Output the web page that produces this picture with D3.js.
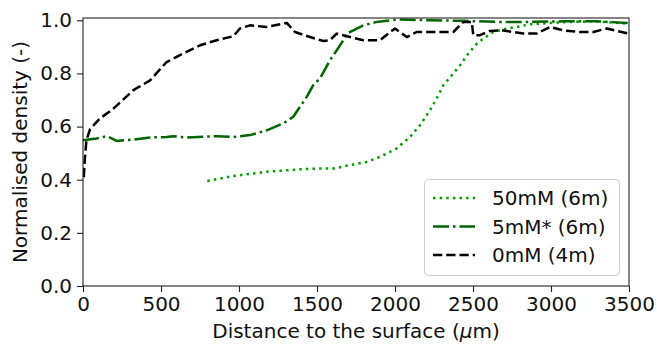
<!DOCTYPE html>
<html>
<head>
<meta charset="utf-8">
<script src="https://cdn.jsdelivr.net/npm/d3@7/dist/d3.min.js"></script>
<style>
  html, body { margin: 0; padding: 0; background: #fff; }
  svg { display: block; font-family: "DejaVu Sans", sans-serif; }
</style>
</head>
<body>
<svg id="chart" width="657" height="344"></svg>
<script>
// ---- data ----
const xTicks = [0, 500, 1000, 1500, 2000, 2500, 3000, 3500];
const yTicks = [0.0, 0.2, 0.4, 0.6, 0.8, 1.0];

const seriesNames = ["50mM (6m)", "5mM* (6m)", "0mM (4m)"];

const x50 = [797, 963, 1178, 1391, 1498, 1605, 1712, 1819, 1904, 2011, 2096, 2160, 2225, 2267, 2310, 2364, 2417, 2470, 2524, 2566, 2630, 2716, 2780, 2865, 3079, 3293, 3496];
const y50 = [0.395, 0.414, 0.430, 0.439, 0.442, 0.442, 0.455, 0.467, 0.486, 0.518, 0.561, 0.605, 0.662, 0.706, 0.756, 0.793, 0.831, 0.875, 0.912, 0.931, 0.956, 0.969, 0.975, 0.985, 0.993, 0.996, 0.987];

const x5 = [0, 88, 152, 216, 323, 430, 536, 579, 665, 857, 963, 1071, 1178, 1284, 1348, 1391, 1434, 1476, 1519, 1583, 1626, 1669, 1690, 1733, 1797, 1883, 2011, 2225, 2438, 2652, 2865, 3079, 3293, 3496];
const y5 = [0.549, 0.555, 0.564, 0.546, 0.551, 0.559, 0.561, 0.564, 0.559, 0.564, 0.561, 0.568, 0.586, 0.612, 0.637, 0.674, 0.712, 0.756, 0.781, 0.850, 0.887, 0.925, 0.950, 0.962, 0.981, 0.994, 1.003, 1.000, 0.998, 0.994, 0.994, 0.996, 0.996, 0.990];

const x0 = [5, 12, 22, 45, 109, 184, 323, 430, 536, 643, 750, 857, 963, 1006, 1071, 1178, 1306, 1359, 1455, 1541, 1583, 1626, 1712, 1797, 1904, 1957, 2000, 2075, 2139, 2289, 2374, 2438, 2492, 2502, 2545, 2609, 2694, 2823, 2908, 2994, 3079, 3186, 3271, 3357, 3496];
const y0 = [0.410, 0.480, 0.549, 0.590, 0.631, 0.662, 0.737, 0.774, 0.843, 0.875, 0.906, 0.925, 0.940, 0.969, 0.981, 0.975, 0.990, 0.956, 0.937, 0.922, 0.925, 0.950, 0.937, 0.925, 0.925, 0.950, 0.969, 0.937, 0.956, 0.956, 0.956, 0.994, 0.994, 0.944, 0.944, 0.960, 0.962, 0.950, 0.950, 0.975, 0.962, 0.956, 0.956, 0.969, 0.950];

// ---- layout ----
const svg = d3.select("#chart");
const mLeft = 83, mRight = 629, mTop = 18, mBottom = 286;
const x = d3.scaleLinear().domain([0, 3500]).range([mLeft, mRight]);
const y = d3.scaleLinear().domain([0, 1.0087]).range([mBottom, mTop]);

const fontSize = 20;
const lw = 2.5;

const series = [
  { name: seriesNames[0], xs: x50, ys: y50, color: "#00a000", dash: `${lw * 1},${lw * 1.65}` },
  { name: seriesNames[1], xs: x5, ys: y5, color: "#006400", dash: `${lw * 6.4},${lw * 1.6},${lw * 1},${lw * 1.6}` },
  { name: seriesNames[2], xs: x0, ys: y0, color: "#000000", dash: `${lw * 3.7},${lw * 1.6}` }
];

const line = d3.line().x(d => x(d[0])).y(d => y(d[1]));

svg.append("clipPath").attr("id", "clip")
  .append("rect").attr("x", mLeft).attr("y", mTop).attr("width", mRight - mLeft).attr("height", mBottom - mTop);

const gLines = svg.append("g").attr("clip-path", "url(#clip)");
series.forEach(s => {
  const pts = s.xs.map((v, i) => [v, s.ys[i]]);
  gLines.append("path")
    .attr("d", line(pts))
    .attr("fill", "none")
    .attr("stroke", s.color)
    .attr("stroke-width", lw)
    .attr("stroke-dasharray", s.dash)
    .attr("stroke-linejoin", "round");
});

svg.append("rect")
  .attr("x", mLeft).attr("y", mTop).attr("width", mRight - mLeft).attr("height", mBottom - mTop)
  .attr("fill", "none").attr("stroke", "#222").attr("stroke-width", 1.1);

const xAxis = d3.axisBottom(x).tickValues(xTicks).tickSize(6).tickPadding(5).tickFormat(d3.format("d"));
const gx = svg.append("g").attr("transform", `translate(0,${mBottom})`).call(xAxis);
gx.select(".domain").remove();
gx.selectAll("line").attr("stroke", "#222").attr("stroke-width", 1.1);
gx.selectAll("text").attr("font-size", fontSize).attr("font-family", "DejaVu Sans").attr("fill", "#111");

const yAxis = d3.axisLeft(y).tickValues(yTicks).tickSize(6).tickPadding(5).tickFormat(d3.format(".1f"));
const gy = svg.append("g").attr("transform", `translate(${mLeft},0)`).call(yAxis);
gy.select(".domain").remove();
gy.selectAll("line").attr("stroke", "#222").attr("stroke-width", 1.1);
gy.selectAll("text").attr("font-size", fontSize).attr("font-family", "DejaVu Sans").attr("fill", "#111");

const xl = svg.append("text")
  .attr("x", (mLeft + mRight) / 2).attr("y", 338)
  .attr("text-anchor", "middle").attr("font-size", fontSize).attr("fill", "#111");
xl.append("tspan").text("Distance to the surface (");
xl.append("tspan").attr("font-style", "italic").text("μ");
xl.append("tspan").text("m)");

svg.append("text")
  .attr("transform", `translate(27,${(mTop + mBottom) / 2}) rotate(-90)`)
  .attr("text-anchor", "middle").attr("font-size", fontSize).attr("fill", "#111")
  .text("Normalised density (-)");

const lg = svg.append("g");
lg.append("rect")
  .attr("x", 424.5).attr("y", 179.5).attr("width", 195).attr("height", 96)
  .attr("rx", 4).attr("ry", 4)
  .attr("fill", "#fff").attr("fill-opacity", 0.8)
  .attr("stroke", "#ccc").attr("stroke-width", 1);
const rowY = [198, 226.5, 255];
series.forEach((s, i) => {
  lg.append("line")
    .attr("x1", 433).attr("x2", 475).attr("y1", rowY[i]).attr("y2", rowY[i])
    .attr("stroke", s.color).attr("stroke-width", lw).attr("stroke-dasharray", s.dash);
  lg.append("text")
    .attr("x", 492).attr("y", rowY[i]).attr("dy", "0.36em")
    .attr("font-size", fontSize).attr("fill", "#111")
    .text(s.name);
});
</script>
</body>
</html>
